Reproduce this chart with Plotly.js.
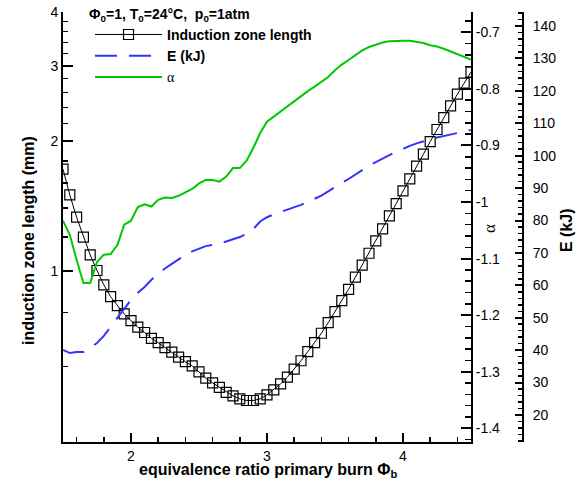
<!DOCTYPE html>
<html>
<head>
<meta charset="utf-8">
<script src="https://cdn.plot.ly/plotly-3.0.1.min.js"></script>
<style>html,body{margin:0;padding:0;background:#fff;}</style>
</head>
<body>
<div id="chart" style="width:582px;height:484px;"></div>
<script>
const phi = [1.50,1.55,1.60,1.65,1.70,1.75,1.80,1.85,1.90,1.95,
  2.00,2.05,2.10,2.15,2.20,2.25,2.30,2.35,2.40,2.45,
  2.50,2.55,2.60,2.65,2.70,2.75,2.80,2.85,2.90,2.95,
  3.00,3.05,3.10,3.15,3.20,3.25,3.30,3.35,3.40,3.45,
  3.50,3.55,3.60,3.65,3.70,3.75,3.80,3.85,3.90,3.95,
  4.00,4.05,4.10,4.15,4.20,4.25,4.30,4.35,4.40,4.45,4.50];

const inductionLength = [1.724,1.502,1.333,1.198,1.089,1.002,0.928,0.871,0.830,0.794,
  0.766,0.740,0.719,0.697,0.681,0.663,0.647,0.630,0.615,0.601,
  0.582,0.563,0.549,0.536,0.522,0.512,0.504,0.4995,0.4995,0.504,
  0.515,0.529,0.546,0.566,0.591,0.618,0.649,0.681,0.716,0.758,
  0.804,0.853,0.906,0.967,1.031,1.099,1.174,1.252,1.342,1.434,
  1.535,1.637,1.752,1.868,1.998,2.132,2.273,2.419,2.576,2.733,2.899];

const energy = [40.1,39.1,39.4,39.4,40.8,42.2,44.4,47.2,50.2,53.0,
  55.5,57.7,59.5,61.7,63.4,65.2,66.6,68.0,69.4,70.5,
  71.4,72.1,72.5,72.9,73.5,74.2,74.9,75.9,77.4,79.7,
  81.0,81.9,82.6,83.3,84.0,84.8,85.7,86.7,87.7,89.0,
  90.4,91.6,92.8,94.2,95.5,96.9,98.0,99.2,100.2,101.2,
  102.2,103.0,103.8,104.5,105.0,105.6,106.1,106.6,107.0,107.5,107.9];

const alpha = [-1.033,-1.058,-1.102,-1.143,-1.143,-1.106,-1.093,-1.092,-1.076,-1.040,
  -1.033,-1.009,-1.004,-1.008,-0.996,-0.992,-0.993,-0.989,-0.983,-0.977,
  -0.967,-0.961,-0.961,-0.964,-0.955,-0.940,-0.940,-0.927,-0.904,-0.878,
  -0.858,-0.849,-0.839,-0.831,-0.822,-0.812,-0.804,-0.796,-0.787,-0.779,
  -0.767,-0.757,-0.749,-0.741,-0.732,-0.726,-0.722,-0.718,-0.716,-0.715,
  -0.715,-0.715,-0.717,-0.719,-0.723,-0.725,-0.729,-0.734,-0.738,-0.743,-0.748];

const xTickVals = [2,3,4];
const xMinorVals = [1.6,1.8,2.2,2.4,2.6,2.8,3.2,3.4,3.6,3.8,4.2,4.4];
const yTickVals = [1,2,3,4];
const yTickText = ['1','2','3','4'];
const yMinorVals = [0.6,0.8,1.2,1.4,1.6,1.8,2.2,2.4,2.6,2.8,3.2,3.4,3.6,3.8];
const alphaTickVals = [-1.4,-1.3,-1.2,-1.1,-1.0,-0.9,-0.8,-0.7];
const alphaTickText = ['-1.4','-1.3','-1.2','-1.1','-1','-0.9','-0.8','-0.7'];
const alphaMinorVals = [-1.42,-1.38,-1.36,-1.34,-1.32,-1.28,-1.26,-1.24,-1.22,-1.18,-1.16,-1.14,-1.12,
  -1.08,-1.06,-1.04,-1.02,-0.98,-0.96,-0.94,-0.92,-0.88,-0.86,-0.84,-0.82,-0.78,-0.76,-0.74,-0.72,-0.68,-0.66];
const eTickVals = [20,30,40,50,60,70,80,90,100,110,120,130,140];
const eMinorVals = [12,14,16,18,22,24,26,28,32,34,36,38,42,44,46,48,52,54,56,58,62,64,66,68,72,74,76,78,
  82,84,86,88,92,94,96,98,102,104,106,108,112,114,116,118,122,124,126,128,132,134,136,138,142,144];

const xRange = [1.5, 4.5];
const yRange = [Math.log10(0.4), Math.log10(4)];
const alphaRange = [-1.4242, -0.6641];
const eRange = [11.67, 144.32];
const ePos = 0.9808;

const FONT = 'Liberation Sans, Arial, Helvetica, sans-serif';
const SERIF = 'Liberation Serif, Times New Roman, serif';

const traces = [
  {
    x: phi, y: energy, yaxis: 'y3', type: 'scatter', mode: 'lines',
    name: '<b>E (kJ)</b>', legendrank: 2,
    line: {color: '#3333ff', width: 2, dash: '22px,12px'}
  },
  {
    x: phi, y: alpha, yaxis: 'y2', type: 'scatter', mode: 'lines',
    name: '<span style="font-family:Liberation Serif, serif">α</span>', legendrank: 3,
    line: {color: '#00c800', width: 2}
  },
  {
    x: phi, y: inductionLength, yaxis: 'y', type: 'scatter', mode: 'lines+markers',
    name: '<b>Induction zone length</b>', legendrank: 1,
    line: {color: 'black', width: 1},
    marker: {symbol: 'square-open', size: 10, color: 'black', line: {width: 1.2, color: 'black'}}
  }
];

const axisCommon = {
  showgrid: false, zeroline: false, showline: true, linecolor: 'black', linewidth: 2,
  ticks: 'inside', tickcolor: 'black', tickwidth: 2,
  tickfont: {family: FONT, size: 14, color: 'black'}
};

const layout = {
  width: 582, height: 484,
  margin: {l: 63, r: 50, t: 12, b: 42, pad: 0},
  paper_bgcolor: 'white', plot_bgcolor: 'white',
  font: {family: FONT, size: 14, color: 'black'},
  showlegend: true,
  legend: {
    x: 0.0576, y: 0.984, xanchor: 'left', yanchor: 'top',
    bgcolor: 'rgba(0,0,0,0)', borderwidth: 0,
    font: {family: FONT, size: 14, color: 'black'},
    itemwidth: 67, tracegroupgap: 0
  },
  xaxis: Object.assign({}, axisCommon, {
    domain: [0, 0.8699], range: xRange,
    tickmode: 'array', tickvals: xTickVals, ticklen: 9,
    minor: {tickvals: xMinorVals, ticks: 'inside', ticklen: 5, tickcolor: 'black', tickwidth: 1.5}
  }),
  yaxis: Object.assign({}, axisCommon, {
    type: 'log', range: yRange,
    tickmode: 'array', tickvals: yTickVals, ticktext: yTickText, ticklen: 10,
    minor: {tickvals: yMinorVals, ticks: 'inside', ticklen: 5, tickcolor: 'black', tickwidth: 1.5}
  }),
  yaxis2: Object.assign({}, axisCommon, {
    overlaying: 'y', side: 'right', anchor: 'x', range: alphaRange,
    tickmode: 'array', tickvals: alphaTickVals, ticktext: alphaTickText, ticklen: 10,
    minor: {tickvals: alphaMinorVals, ticks: 'inside', ticklen: 6, tickcolor: 'black', tickwidth: 1.5}
  }),
  yaxis3: Object.assign({}, axisCommon, {
    overlaying: 'y', side: 'right', anchor: 'free', position: ePos, range: eRange,
    tickmode: 'array', tickvals: eTickVals, ticklen: 7, ticklabelstandoff: 6,
    minor: {tickvals: eMinorVals, ticks: 'inside', ticklen: 4, tickcolor: 'black', tickwidth: 1.5}
  }),
  annotations: [
    {xref: 'paper', yref: 'paper', x: 0.0512, y: 0.993, xanchor: 'left', yanchor: 'middle', showarrow: false,
     text: '<b>Φ<sub>0</sub>=1, T<sub>0</sub>=24°C,  p<sub>0</sub>=1atm</b>', font: {family: FONT, size: 14}},
    {xref: 'paper', yref: 'paper', x: 0.437, y: -0.0674, xanchor: 'center', yanchor: 'middle', showarrow: false,
     text: '<b>equivalence ratio primary burn Φ<sub>b</sub></b>', font: {family: FONT, size: 16}},
    {xref: 'paper', yref: 'paper', x: -0.0746, y: 0.4674, xanchor: 'center', yanchor: 'middle', showarrow: false,
     textangle: -90, text: '<b>induction zone length (mm)</b>', font: {family: FONT, size: 16}},
    {xref: 'paper', yref: 'paper', x: 0.9104, y: 0.4977, xanchor: 'center', yanchor: 'middle', showarrow: false,
     textangle: -90, text: 'α', font: {family: SERIF, size: 17}},
    {xref: 'paper', yref: 'paper', x: 1.0725, y: 0.493, xanchor: 'center', yanchor: 'middle', showarrow: false,
     textangle: -90, text: '<b>E (kJ)</b>', font: {family: FONT, size: 16}}
  ]
};

Plotly.newPlot('chart', traces, layout, {displayModeBar: false, staticPlot: true});
</script>
</body>
</html>
